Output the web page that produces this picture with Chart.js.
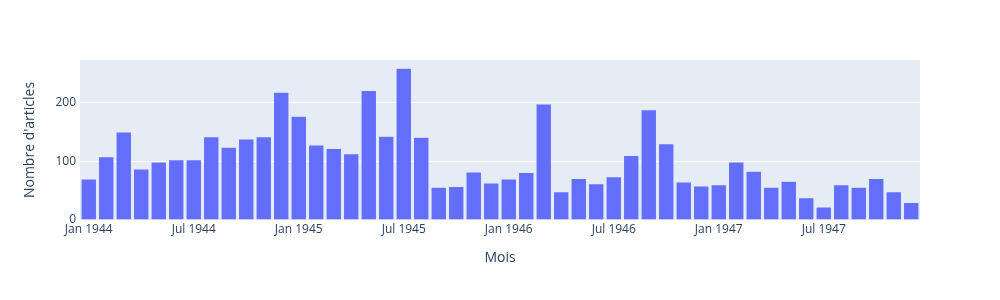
<!DOCTYPE html>
<html>
<head>
<meta charset="utf-8">
<script src="https://cdn.jsdelivr.net/npm/chart.js@4/dist/chart.umd.min.js"></script>
<style>
  html, body { margin: 0; padding: 0; background: #fff; }
  #wrap { width: 1000px; height: 300px; }
</style>
</head>
<body>
<div id="wrap"><canvas id="ourChart" width="1000" height="300"></canvas></div>
<script>
// mois de janvier 1944 à décembre 1947
let mois = []
const noms = ['Jan', 'Feb', 'Mar', 'Apr', 'May', 'Jun', 'Jul', 'Aug', 'Sep', 'Oct', 'Nov', 'Dec']
const annees = [1944, 1945, 1946, 1947]
annees.forEach(a => noms.forEach(m => mois.push(m + ' ' + a)))

// étiquettes visibles sur l'axe des x
const tickLabels = ['Jan 1944', 'Jul 1944', 'Jan 1945', 'Jul 1945', 'Jan 1946', 'Jul 1946', 'Jan 1947', 'Jul 1947']

let articles = [
    70, 108, 150, 87, 99, 103, 103, 142, 124, 138, 142, 218,
    177, 128, 122, 113, 221, 143, 259, 141, 56, 57, 82, 63,
    70, 81, 198, 48, 71, 62, 74, 110, 188, 130, 65, 58,
    60, 99, 83, 56, 66, 38, 22, 60, 56, 71, 48, 30
]

const yTicks = [0, 100, 200]

const fontFamily = '"Open Sans", "Noto Sans", sans-serif'
const textColor = '#2a3f5f'

const plotBg = {
    id: 'plotBg',
    beforeDraw(chart) {
        const {ctx, chartArea} = chart
        ctx.save()
        ctx.fillStyle = '#e5ecf6'
        ctx.fillRect(chartArea.left, chartArea.top, chartArea.right - chartArea.left, chartArea.bottom - chartArea.top)
        ctx.restore()
    }
}

const chartElement = new Chart(document.getElementById('ourChart'), {
    type: 'bar',
    data: {
        labels: mois,
        datasets: [
            {
                label: "Nombre d'articles",
                data: articles,
                backgroundColor: '#636efa',
                borderColor: '#e5ecf6',
                borderWidth: 0.5,
                categoryPercentage: 1,
                barPercentage: 0.88
            }
        ]
    },
    options: {
        responsive: false,
        animation: false,
        layout: { padding: { left: 22, right: 80, top: 60, bottom: 0 } },
        plugins: {
            legend: { display: false },
            tooltip: { enabled: false }
        },
        scales: {
            x: {
                grid: { display: false, drawTicks: false },
                border: { display: false },
                ticks: {
                    autoSkip: false,
                    maxRotation: 0,
                    padding: 2,
                    color: textColor,
                    font: { family: fontFamily, size: 12 },
                    callback: function (value) {
                        const lab = this.getLabelForValue(value)
                        return tickLabels.includes(lab) ? lab : ''
                    }
                },
                title: {
                    display: true,
                    text: 'Mois',
                    color: textColor,
                    font: { family: fontFamily, size: 14 },
                    padding: { top: 0, bottom: 34 }
                },
                afterFit: s => { s.height = 80 }
            },
            y: {
                min: 0,
                max: 273,
                grid: { color: '#ffffff', lineWidth: 1, drawTicks: false },
                border: { display: false },
                ticks: {
                    padding: 4,
                    color: textColor,
                    font: { family: fontFamily, size: 12 }
                },
                afterBuildTicks: s => { s.ticks = yTicks.map(v => ({ value: v })) },
                title: {
                    display: true,
                    text: "Nombre d'articles",
                    color: textColor,
                    font: { family: fontFamily, size: 14 },
                    padding: 0
                },
                afterFit: s => { s.width = 58 }
            }
        }
    },
    plugins: [plotBg]
});
</script>
</body>
</html>
